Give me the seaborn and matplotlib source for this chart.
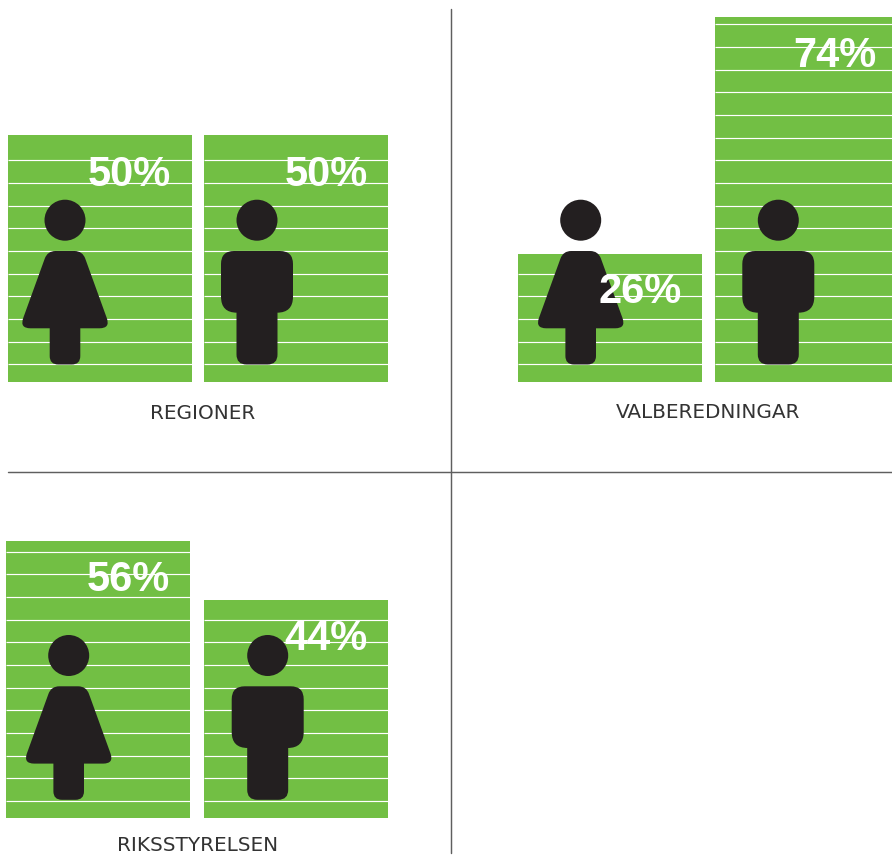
import numpy as np
import pandas as pd
import matplotlib
matplotlib.use("Agg")
import matplotlib.pyplot as plt
from matplotlib.path import Path
from matplotlib.patches import PathPatch, Circle
import seaborn as sns

# ---- data ----
genders = ["Kvinnor", "Män"]
panel_names = ["REGIONER", "VALBEREDNINGAR", "RIKSSTYRELSEN"]
regioner = [50, 50]
valberedningar = [26, 74]
riksstyrelsen = [56, 44]

# ---- styling / layout (pixels) ----
W, H = 892, 855
GREEN = "#72BF44"
DARK = "#231F20"
RULE = "#5F5F5F"
PX_PER_PCT = 4.935
YMAX = 80
BAR_PX = 184
STRIPE_STEP = 22.67

sns.set_theme(style="white")
fig = plt.figure(figsize=(W / 100, H / 100), dpi=100, facecolor="white")

panels = [
    dict(vals=regioner, c0=100, c1=296, base=382, stripe=17.7,
         icons=(65, 257), top=251, label_x=203, label_y=418.5,
         vx=(170.5, 367.5), vy=(186, 186)),
    dict(vals=valberedningar, c0=610, c1=807, base=382, stripe=17.7,
         icons=(580.7, 778.3), top=251, label_x=708.3, label_y=418.2,
         vx=(681.5, 876.5), vy=(302.7, 67)),
    dict(vals=riksstyrelsen, c0=98, c1=296, base=817.5, stripe=16.5,
         icons=(68.7, 267.7), top=686.3, label_x=198, label_y=850.5,
         vx=(169.5, 367.5), vy=(591, 649.7)),
]


def rounded(points, radii):
    """Closed path through the points with quadratic rounded corners."""
    pts = np.asarray(points, float)
    n = len(pts)
    verts, codes = [], []
    for i in range(n):
        p, a, b = pts[i], pts[i - 1], pts[(i + 1) % n]
        r = radii[i]
        if r == 0:
            verts.append(p)
            codes.append(Path.LINETO if i else Path.MOVETO)
            continue
        d1 = (a - p) / np.linalg.norm(a - p)
        d2 = (b - p) / np.linalg.norm(b - p)
        verts += [p + d1 * r, p, p + d2 * r]
        codes += [Path.LINETO if i else Path.MOVETO, Path.CURVE3, Path.CURVE3]
    verts.append(verts[0])
    codes.append(Path.CLOSEPOLY)
    return Path(verts, codes)


WOMAN = ([(-17.5, 0), (17.5, 0), (45.5, 77.3), (15.3, 77.3), (15.3, 113.5),
          (-15.3, 113.5), (-15.3, 77.3), (-45.5, 77.3)],
         [8, 8, 11, 0, 8.5, 8.5, 0, 11])
MAN = ([(-36, 0), (36, 0), (36, 61.7), (20.5, 61.7), (20.5, 113.5),
        (-20.5, 113.5), (-20.5, 61.7), (-36, 61.7)],
       [13, 13, 16, 0, 10, 10, 0, 16])

# one axes per panel, the bars come from seaborn
for p in panels:
    sep = p["c1"] - p["c0"]
    left = p["c0"] - sep / 2
    height = YMAX * PX_PER_PCT
    ax = fig.add_axes([left / W, (H - p["base"]) / H, 2 * sep / W, height / H])
    df = pd.DataFrame({"kon": genders, "andel": p["vals"]})
    sns.barplot(data=df, x="kon", y="andel", color=GREEN, saturation=1,
                width=BAR_PX / sep, ax=ax, zorder=1, linewidth=0, edgecolor="none")
    ax.set_xlim(-0.5, 1.5)
    ax.set_ylim(0, YMAX)
    ax.axis("off")
    for bar in ax.patches:
        # stripes stop a few pixels short of the top edge of the bar
        ys = np.arange(p["stripe"], bar.get_height() * PX_PER_PCT - 4, STRIPE_STEP) / PX_PER_PCT
        ax.hlines(ys, bar.get_x(), bar.get_x() + bar.get_width(),
                  color="white", lw=0.85, zorder=2)

# overlay in pixel coordinates: rules, pictograms, texts
ov = fig.add_axes([0, 0, 1, 1], facecolor="none")
ov.set_xlim(0, W)
ov.set_ylim(H, 0)
ov.axis("off")

ov.plot([451, 451], [9, 853], color=RULE, lw=1.05, zorder=1)
ov.plot([8, 892], [472, 472], color=RULE, lw=1.05, zorder=1)

for p, name in zip(panels, panel_names):
    for cx, (shape, radii) in zip(p["icons"], (WOMAN, MAN)):
        pts = [(cx + dx, p["top"] + dy) for dx, dy in shape]
        ov.add_patch(PathPatch(rounded(pts, radii), fc=DARK, ec="none", zorder=3))
        ov.add_patch(Circle((cx, p["top"] - 30.8), 20.5, fc=DARK, ec="none", zorder=3))
    for v, x, y in zip(p["vals"], p["vx"], p["vy"]):
        ov.text(x, y, f"{v}%", color="white", family="Liberation Sans", weight="bold",
                fontsize=30, ha="right", va="baseline", zorder=4)
    ov.text(p["label_x"], p["label_y"], name, color="#333333", family="DejaVu Sans",
            fontsize=14.4, ha="center", va="baseline", zorder=4)

fig.savefig("out.png", dpi=100, facecolor="white")
